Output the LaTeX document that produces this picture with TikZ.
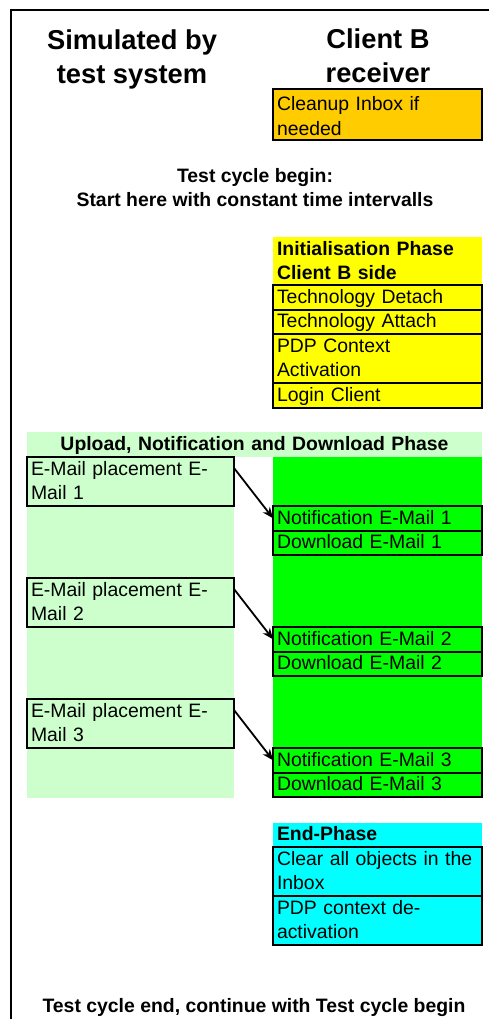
\documentclass[tikz,border=0pt]{standalone}
\usepackage{fontspec}
\setmainfont{Liberation Sans}
\usetikzlibrary{positioning,arrows.meta}
\newcommand{\cellfont}{\fontsize{19.4}{24.5}\selectfont}
\newcommand{\colhead}{\fontsize{27.3}{34}\selectfont\bfseries}
\definecolor{inboxorange}{HTML}{FFCC00}
\definecolor{inityellow}{HTML}{FFFF00}
\definecolor{paleupload}{HTML}{CCFFCC}
\definecolor{clientgreen}{HTML}{00FF00}
\definecolor{endcyan}{HTML}{00FFFF}
\tikzset{
  >={Stealth[length=11pt,width=9pt]},
  cell/.style={draw, line width=2pt, inner xsep=4pt, inner ysep=0pt, outer sep=0pt,
               text width=201pt, align=left, text height=18pt, text depth=6.5pt,
               font=\cellfont, anchor=north west},
  twoline/.style={text depth=31pt},
  leftcell/.style={cell, text width=199pt},
  band/.style={inner xsep=4pt, inner ysep=0pt, outer sep=0pt, text width=201pt, align=left,
               text height=18pt, text depth=6.5pt, font=\cellfont\bfseries, anchor=north west},
  caption/.style={font=\cellfont\bfseries, align=center, inner sep=0pt},
  flow/.style={->, line width=1.8pt}
}

\begin{document}
\begin{tikzpicture}[x=1pt,y=1pt]
  \useasboundingbox (0,0) rectangle (489,-1019);

  % Frame.
  \draw[line width=2pt] (10.5,-1019) -- (10.5,-10.5) -- (489,-10.5);

  % Column titles.
  \node[font=\colhead, align=center, inner sep=0pt] (headSim) at (132,-59) {Simulated by\\test system};
  \node[font=\colhead, align=center, inner sep=0pt] (headClient) at (378,-56) {Client B\\receiver};

  \node[cell, fill=inboxorange, text height=22pt, text depth=29pt] (cleanup) at (273,-89)
       {Cleanup Inbox if\\needed};

  \node[caption] (cycleBegin) at (255,-187.5)
       {Test cycle begin:\\Start here with constant time intervalls};

  % Initialisation phase.
  \node[band, fill=inityellow, text depth=30pt] (initHead) at (273,-237)
       {Initialisation Phase\\Client B side};
  \node[cell, fill=inityellow, below=0pt of initHead] (techDetach) {Technology Detach};
  \node[cell, fill=inityellow, below=0pt of techDetach] (techAttach) {Technology Attach};
  \node[cell, fill=inityellow, twoline, below=0pt of techAttach] (pdpAct) {PDP Context\\Activation};
  \node[cell, fill=inityellow, below=0pt of pdpAct] (loginCl) {Login Client};

  % Upload, notification and download phase.
  \fill[paleupload] (27,-457) rectangle (234,-798);
  \fill[clientgreen] (273,-457) rectangle (482,-798);
  \node[band, fill=paleupload, text width=447pt, align=center] (uploadHead) at (27,-432)
       {Upload, Notification and Download Phase};

  \node[leftcell, twoline, fill=paleupload] (place1) at (27,-457) {E-Mail placement E-\\Mail 1};
  \node[cell, fill=clientgreen] (notif1) at (273,-506) {Notification E-Mail 1};
  \node[cell, fill=clientgreen, below=0pt of notif1] (down1) {Download E-Mail 1};
  \draw[flow] ([yshift=-11pt]place1.north east) -- (notif1.west);

  \node[leftcell, twoline, fill=paleupload] (place2) at (27,-578) {E-Mail placement E-\\Mail 2};
  \node[cell, fill=clientgreen] (notif2) at (273,-627) {Notification E-Mail 2};
  \node[cell, fill=clientgreen, below=0pt of notif2] (down2) {Download E-Mail 2};
  \draw[flow] ([yshift=-11pt]place2.north east) -- (notif2.west);

  \node[leftcell, twoline, fill=paleupload] (place3) at (27,-699) {E-Mail placement E-\\Mail 3};
  \node[cell, fill=clientgreen] (notif3) at (273,-748) {Notification E-Mail 3};
  \node[cell, fill=clientgreen, below=0pt of notif3] (down3) {Download E-Mail 3};
  \draw[flow] ([yshift=-11pt]place3.north east) -- (notif3.west);

  % End phase.
  \node[band, fill=endcyan, text height=17pt, text depth=7pt] (endHead) at (273,-823) {End-Phase};
  \node[cell, fill=endcyan, twoline, below=0pt of endHead] (clearInbox) {Clear all objects in the\\Inbox};
  \node[cell, fill=endcyan, twoline, below=0pt of clearInbox] (pdpDeact) {PDP context de-\\activation};

  \node[caption, anchor=base] (cycleEnd) at (254,-1012)
       {Test cycle end, continue with Test cycle begin};
\end{tikzpicture}
\end{document}
